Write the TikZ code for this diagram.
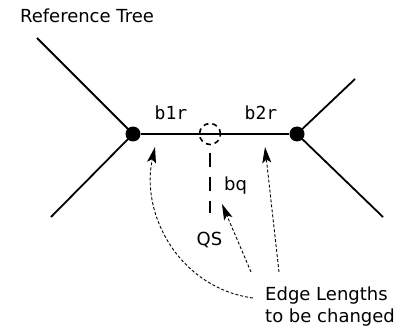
\documentclass[tikz,border=0pt]{standalone}
\usepackage{fontspec}
\setmainfont{DejaVu Sans}
\newfontfamily\monof{DejaVu Sans Mono}
\usetikzlibrary{arrows.meta}
\begin{document}
\begin{tikzpicture}[x=1pt,y=-1pt,
  branch/.style={line width=1.8pt},
  junction/.style={circle,fill=black,inner sep=0pt,minimum size=15pt},
  lbl/.style={inner sep=0pt,font=\fontsize{18}{21}\selectfont},
  pointer/.style={line width=0.9pt,dash pattern=on 3pt off 2pt,
    -{Stealth[length=16pt,width=9pt,inset=3.5pt]}}]
\useasboundingbox (0,0) rectangle (406,331);
% tree
\node[junction] (L) at (133,134) {};
\node[junction] (R) at (297,134) {};
\coordinate (LU) at (37,38);
\coordinate (LD) at (51,217);
\coordinate (RU) at (355,79);
\coordinate (RD) at (383,217);
\draw[branch] (LU) -- (L.center) -- (LD);
\draw[branch] (RU) -- (R.center) -- (RD);
\draw[branch] (L) -- (R);
% query insertion
\node[circle,draw,line width=1.6pt,dash pattern=on 5pt off 4pt,minimum size=21pt,inner sep=0pt] (Q) at (210,134) {};
\coordinate (QT) at (210,153);
\coordinate (QB) at (210,213);
\draw[line width=2.4pt,dash pattern=on 14pt off 10pt] (QT) -- (QB);
% labels
\node[lbl,anchor=base] (title) at (87,23) {Reference Tree};
\node[lbl,anchor=base,font=\fontsize{18}{21}\selectfont\monof] (b1r) at (171,120) {b1r};
\node[lbl,anchor=base,font=\fontsize{18}{21}\selectfont\monof] (b2r) at (261,120) {b2r};
\node[lbl,anchor=base] (bq) at (235.5,190) {bq};
\node[lbl,anchor=base] (QS) at (209.5,245) {QS};
\node[lbl,anchor=base west] (E1) at (265,300) {Edge Lengths};
\node[lbl,anchor=base west] (E2) at (265,322) {to be changed};
% pointers
\coordinate (T1) at (253,298);
\coordinate (H1) at (155,147);
\coordinate (T2) at (251,272);
\coordinate (H2) at (222,204);
\coordinate (T3) at (279,272);
\coordinate (H3) at (265,147);
\draw[pointer] (T1) .. controls (180,288) and (140,215) .. (H1);
\draw[pointer] (T2) -- (H2);
\draw[pointer] (T3) -- (H3);
\end{tikzpicture}
\end{document}
